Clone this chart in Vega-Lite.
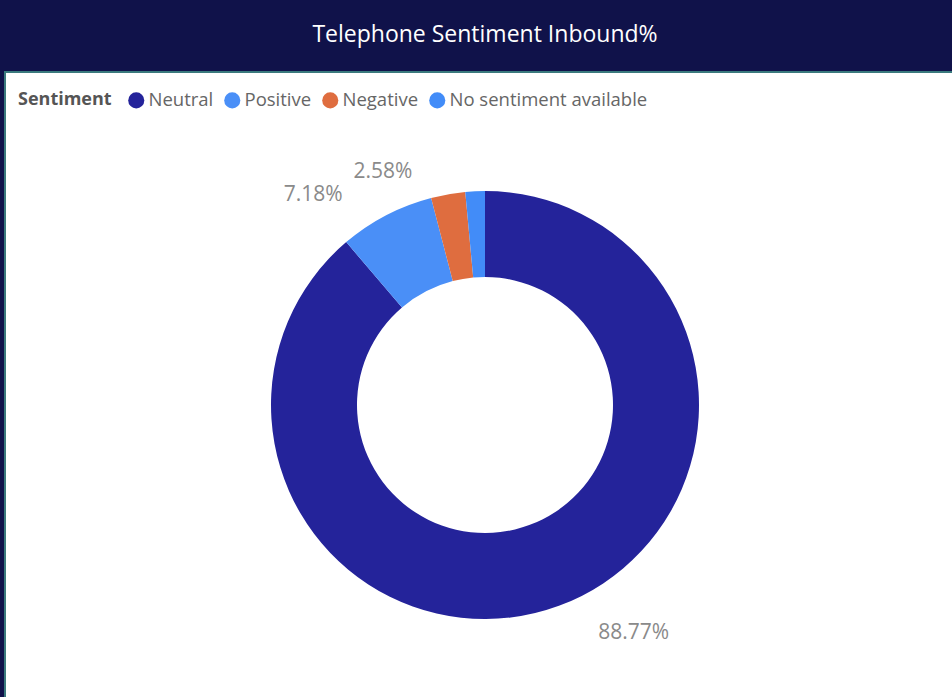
{
  "$schema": "https://vega.github.io/schema/vega-lite/v6.json",
  "autosize": {"type": "none"},
  "width": 960,
  "height": 666,
  "padding": {"left": 5, "top": 72, "right": -13, "bottom": -41},
  "background": "#10124a",
  "view": {"fill": "#ffffff", "stroke": "#3b7a7e", "strokeWidth": 2},
  "title": {
    "text": "Telephone Sentiment Inbound%",
    "color": "#ffffff",
    "font": "Open Sans",
    "fontSize": 23,
    "fontWeight": "normal",
    "anchor": "middle",
    "offset": 25
  },
  "data": {
    "values": [
      {"Sentiment": "Neutral", "share": 0.8877, "order": 1},
      {"Sentiment": "Positive", "share": 0.0718, "order": 2},
      {"Sentiment": "Negative", "share": 0.0258, "order": 3},
      {"Sentiment": "No sentiment available", "share": 0.0147, "order": 4}
    ]
  },
  "layer": [
    {
      "mark": {"type": "arc", "innerRadius": 128, "outerRadius": 214},
      "encoding": {
        "theta": {"field": "share", "type": "quantitative", "stack": true},
        "order": {"field": "order", "type": "quantitative"},
        "color": {
          "field": "Sentiment",
          "type": "nominal",
          "scale": {
            "domain": ["Neutral", "Positive", "Negative", "No sentiment available"],
            "range": ["#24239a", "#4a8ff7", "#df6d3f", "#428cf8"]
          },
          "legend": {
            "title": "Sentiment",
            "orient": "none",
            "legendX": 13,
            "legendY": 19,
            "direction": "horizontal",
            "titleOrient": "left",
            "titleAnchor": "middle",
            "symbolType": "circle",
            "symbolSize": 260,
            "symbolStrokeWidth": 0,
            "symbolOpacity": 1,
            "labelFont": "Open Sans",
            "labelFontSize": 18.5,
            "labelColor": "#666666",
            "labelLimit": 0,
            "titleFont": "Open Sans",
            "titleFontSize": 18,
            "titleFontWeight": "bold",
            "titleColor": "#555555",
            "titlePadding": 15,
            "columnPadding": 9,
            "labelOffset": 3
          }
        }
      }
    },
    {
      "mark": {"type": "text", "radius": 241, "align": "left", "baseline": "middle", "dx": 30, "dy": 2, "font": "Open Sans", "fontSize": 21, "color": "#8a8a8a"},
      "encoding": {
        "theta": {"field": "share", "type": "quantitative", "stack": true},
        "order": {"field": "order", "type": "quantitative"},
        "detail": {"field": "Sentiment", "type": "nominal"},
        "text": {
          "condition": {"test": "datum.Sentiment === 'Neutral'", "field": "share", "type": "quantitative", "format": ".2%"},
          "value": ""
        }
      }
    },
    {
      "mark": {"type": "text", "radius": 241, "align": "right", "baseline": "middle", "dx": -31, "dy": 4, "font": "Open Sans", "fontSize": 21, "color": "#8a8a8a"},
      "encoding": {
        "theta": {"field": "share", "type": "quantitative", "stack": true},
        "order": {"field": "order", "type": "quantitative"},
        "detail": {"field": "Sentiment", "type": "nominal"},
        "text": {
          "condition": {"test": "datum.Sentiment === 'Positive' || datum.Sentiment === 'Negative'", "field": "share", "type": "quantitative", "format": ".2%"},
          "value": ""
        }
      }
    }
  ]
}
